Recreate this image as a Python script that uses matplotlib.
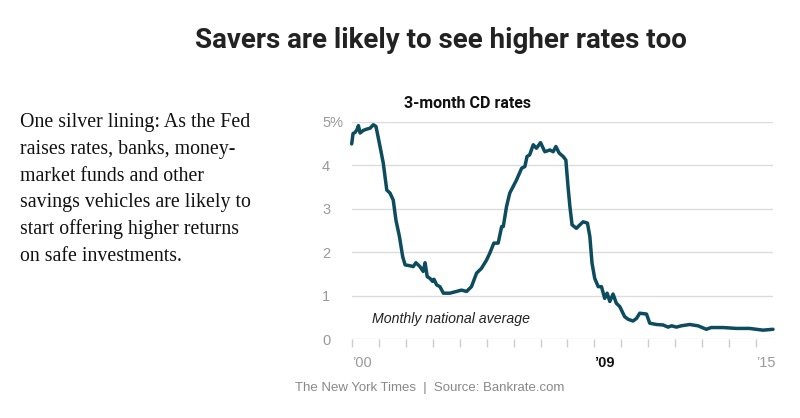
import matplotlib
matplotlib.use("Agg")
import matplotlib.pyplot as plt

# monthly national average, 3-month CD
years = [2000.0, 2000.05, 2000.12, 2000.19, 2000.25, 2000.31, 2000.43, 2000.56, 2000.68, 2000.80,
         2000.90, 2000.95, 2001.05, 2001.17, 2001.30, 2001.42, 2001.54, 2001.64, 2001.77, 2001.89,
         2001.98, 2002.16, 2002.28, 2002.38, 2002.53, 2002.65, 2002.72, 2002.80, 2002.90, 2003.00,
         2003.05, 2003.15, 2003.27, 2003.40, 2003.64, 2003.89, 2004.07, 2004.26, 2004.44, 2004.63,
         2004.81, 2005.00, 2005.12, 2005.27, 2005.43, 2005.56, 2005.62, 2005.74, 2005.86, 2006.11,
         2006.30, 2006.42, 2006.50, 2006.60, 2006.73, 2006.85, 2007.00, 2007.16, 2007.35, 2007.47,
         2007.57, 2007.69, 2007.84, 2007.94, 2008.02, 2008.09, 2008.17, 2008.33, 2008.46, 2008.58,
         2008.74, 2008.83, 2008.91, 2009.01, 2009.14, 2009.26, 2009.38, 2009.47, 2009.57, 2009.69,
         2009.81, 2009.94, 2010.12, 2010.25, 2010.43, 2010.56, 2010.68, 2010.93, 2011.05, 2011.30,
         2011.54, 2011.73, 2011.86, 2012.04, 2012.22, 2012.53, 2012.84, 2013.15, 2013.33, 2013.77,
         2014.26, 2014.75, 2015.00, 2015.25, 2015.62]
rates = [4.49, 4.73, 4.75, 4.81, 4.91, 4.74, 4.80, 4.83, 4.85, 4.93,
         4.89, 4.74, 4.43, 4.05, 3.43, 3.36, 3.20, 2.74, 2.36, 1.90,
         1.71, 1.69, 1.67, 1.76, 1.67, 1.56, 1.76, 1.44, 1.40, 1.33,
         1.38, 1.25, 1.21, 1.06, 1.06, 1.10, 1.13, 1.10, 1.21, 1.52,
         1.63, 1.82, 1.98, 2.21, 2.21, 2.59, 2.59, 3.05, 3.36, 3.66,
         3.93, 3.97, 4.20, 4.24, 4.47, 4.39, 4.52, 4.31, 4.35, 4.31,
         4.43, 4.28, 4.20, 4.12, 3.51, 3.05, 2.63, 2.55, 2.63, 2.70,
         2.67, 2.36, 1.75, 1.40, 1.21, 1.21, 0.94, 1.06, 0.87, 1.04,
         0.83, 0.75, 0.52, 0.46, 0.42, 0.48, 0.60, 0.58, 0.37, 0.34,
         0.33, 0.28, 0.31, 0.28, 0.31, 0.34, 0.31, 0.23, 0.27, 0.27,
         0.25, 0.25, 0.23, 0.21, 0.23]

ytick_vals = [0, 1, 2, 3, 4, 5]
ytick_text = ['0', '1', '2', '3', '4', '5%']
xtick_years = list(range(2000, 2016))
xtick_text = {2000: '\u201900', 2009: '\u201909', 2015: '\u201915'}

W, H = 800, 418
fig = plt.figure(figsize=(W / 100, H / 100), dpi=100)
fig.patch.set_facecolor('white')

def fx(px):
    return px / W

def fy(py):
    return 1 - py / H

ax = fig.add_axes([fx(351.7), fy(339.3), fx(773 - 351.7), (339.3 - 121.7) / H])
ax.set_xlim(2000, 2015.62)
ax.set_ylim(0, 5)

for v in ytick_vals:
    ax.axhline(v, color='#dcdcdc', lw=1, zorder=1)

ax.plot(years, rates, color='#0d4b5e', lw=2.5, solid_joinstyle='round',
        solid_capstyle='round', clip_on=False, zorder=3)

for s in ax.spines.values():
    s.set_visible(False)

ax.set_yticks(ytick_vals)
ax.set_yticklabels(ytick_text)
ax.tick_params(axis='y', length=0, pad=21.4, labelsize=10.5, labelcolor='#999999')
for lab in ax.get_yticklabels():
    lab.set_horizontalalignment('left')
    lab.set_fontfamily(['Liberation Sans', 'DejaVu Sans'])

ax.set_xticks(xtick_years)
ax.set_xticklabels([xtick_text.get(y, '') for y in xtick_years])
ax.tick_params(axis='x', length=6, width=1, color='#cccccc', pad=6,
               labelsize=10.5, labelcolor='#999999')
for y, lab in zip(xtick_years, ax.get_xticklabels()):
    lab.set_horizontalalignment('left')
    lab.set_fontfamily(['Liberation Sans', 'DejaVu Sans'])
    if y == 2009:
        lab.set_fontweight('bold')
        lab.set_color('#111111')

ax.text(2000.75, 0.38, 'Monthly national average', fontsize=10.2, style='italic',
        color='#222222', family=['Liberation Sans', 'DejaVu Sans'], va='baseline')

# headline, chart title, blurb, credit
fig.text(fx(440.5), fy(47.7), 'Savers are likely to see higher rates too', ha='center',
         va='baseline', fontsize=20, fontweight='bold', color='#222222',
         family=['Liberation Sans Narrow', 'Roboto', 'DejaVu Sans'])
fig.text(fx(467), fy(108), '3-month CD rates', ha='center', va='baseline',
         fontsize=11.5, fontweight='bold', color='#111111',
         family=['Liberation Sans Narrow', 'Roboto', 'DejaVu Sans'])

blurb = ['One silver lining: As the Fed',
         'raises rates, banks, money-',
         'market funds and other',
         'savings vehicles are likely to',
         'start offering higher returns',
         'on safe investments.']
for i, line in enumerate(blurb):
    fig.text(fx(20.5), fy(127.3 + i * 26.7), line, ha='left', va='baseline',
             fontsize=14.3, color='#111111', family=['Liberation Serif', 'DejaVu Serif'])

fig.text(fx(295), fy(390.5), 'The New York Times  |  Source: Bankrate.com', ha='left',
         va='baseline', fontsize=9.5, color='#888888',
         family=['Liberation Sans', 'DejaVu Sans'])

fig.savefig('out.png', dpi=100, facecolor='white')
